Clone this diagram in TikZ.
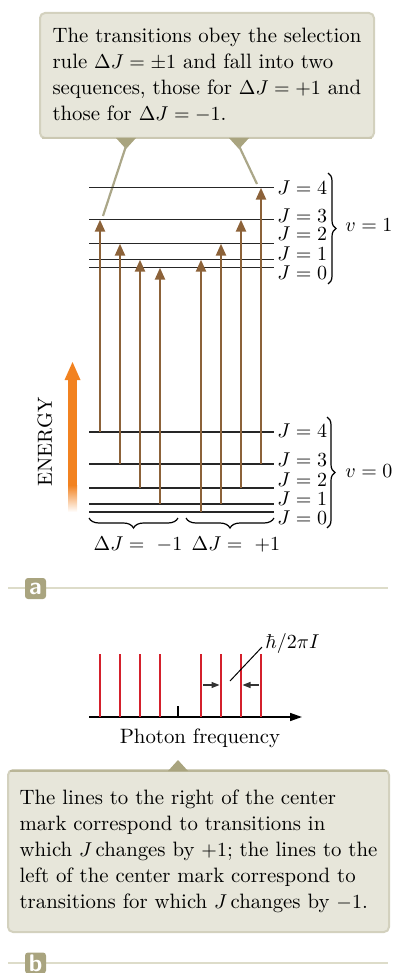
\documentclass[tikz,border=0pt]{standalone}
\usepackage{amsmath}
\usetikzlibrary{arrows.meta,decorations.pathreplacing}
\definecolor{notebg}{HTML}{E7E6DA}
\definecolor{noteedge}{HTML}{D3D1BE}
\definecolor{notedark}{HTML}{A9A47F}
\definecolor{leadgray}{HTML}{ABA789}
\definecolor{trbrown}{HTML}{8C6239}
\definecolor{energyorange}{HTML}{F28220}
\definecolor{specred}{HTML}{D4202C}
\definecolor{rulegray}{HTML}{DDDCC9}

\begin{document}
\begin{tikzpicture}[x=0.5pt,y=-0.5pt,
	enlevel/.style={line width=0.6pt, color=black!85},
	transarrow/.style={line width=1.2pt, color=trbrown, -{Triangle[length=6pt,width=5pt]}},
	notebox/.style={fill=notebg, draw=noteedge, line width=1pt, rounded corners=2.5pt, align=left, inner sep=0pt, font=\fontsize{10.4}{13}\selectfont},
	jlab/.style={anchor=base west, inner sep=0pt, font=\fontsize{10}{12}\selectfont},
	specline/.style={line width=1.3pt, color=specred},
	paneltag/.style={fill=notedark, rounded corners=1.5pt, text=white, font=\fontsize{12}{12}\sffamily\bfseries, minimum size=10.5pt, inner sep=0pt},
	panelrule/.style={line width=1pt, color=rulegray}]
	\useasboundingbox (0,0) rectangle (393,973);

	% callout on the selection rule
	\node[notebox, minimum width=167pt, minimum height=62.5pt] (rulenote) at (207,75.5) {The transitions obey the selection\\ rule $\Delta J = \pm1$ and fall into two\\ sequences, those for $\Delta J = +1$ and\\ those for $\Delta J = -1$.};
	\draw[notedark!60, line width=0.8pt] (42,138) -- (372,138);
	\fill[notedark] (116,138) -- (136,138) -- (126,149) -- cycle;
	\fill[notedark] (229,138) -- (249,138) -- (239,149) -- cycle;
	\coordinate (pointl) at (126,146);
	\coordinate (pointr) at (239,146);
	\coordinate (tipl) at (103,216);
	\coordinate (tipr) at (257,184);
	\draw[leadgray, line width=1.1pt] (pointl) -- (tipl);
	\draw[leadgray, line width=1.1pt] (pointr) -- (tipr);

	% rotational levels, v = 1 and v = 0
	\foreach \y in {187.7,219.7,243.7,259.7,267.7} {
		\draw[enlevel] (89,\y) -- (274,\y);
	}
	\foreach \y in {432,464,488,504,512} {
		\draw[enlevel] (89,\y) -- (274,\y);
	}
	\foreach \j/\yy in {4/195,3/222,2/241,1/260,0/279} {
		\node[jlab] (uj\j) at (277,\yy) {$J=\j$};
	}
	\foreach \j/\yy in {4/437,3/466,2/486,1/505,0/524} {
		\node[jlab] (lj\j) at (277,\yy) {$J=\j$};
	}
	\draw[decorate, decoration={brace, amplitude=4pt}, line width=0.6pt] (328,173) -- (328,284);
	\draw[decorate, decoration={brace, amplitude=4pt}, line width=0.6pt] (327,417) -- (327,528);
	\node[jlab] (vup) at (345,231.7) {$v=1$};
	\node[jlab] (vlow) at (345,477) {$v=0$};

	% transitions
	\foreach \x/\ya/\yb in {100/432/219.7, 120/464/243.7, 140/488/259.7, 160/504/267.7, 201/512/259.7, 221/504/243.7, 241/488/219.7, 261/464/187.7} {
		\draw[transarrow] (\x,\ya) -- (\x,\yb);
	}

	% the two sequences
	\draw[decorate, decoration={brace, amplitude=5pt, mirror}, line width=0.6pt] (89,518) -- (178,518);
	\draw[decorate, decoration={brace, amplitude=5pt, mirror}, line width=0.6pt] (186,518) -- (274,518);
	\node[anchor=base, inner sep=0pt, font=\fontsize{10}{12}\selectfont] (minus) at (138,550) {$\Delta J = \ -1$};
	\node[anchor=base, inner sep=0pt, font=\fontsize{10}{12}\selectfont] (plus) at (236,550) {$\Delta J = \ +1$};

	% energy axis
	\node[rotate=90, inner sep=0pt, font=\fontsize{10.2}{12}\selectfont] (energy) at (45,442) {ENERGY};
	\fill[energyorange] (68,379) rectangle (77,486);
	\shade[top color=energyorange, bottom color=white] (68,485) rectangle (77,512);
	\fill[energyorange] (64.5,380) -- (72.5,362) -- (80.5,380) -- cycle;

	% panel a
	\draw[panelrule] (8,588) -- (388,588);
	\node[paneltag] (taga) at (35.5,588.5) {a};

	% spectrum
	\draw[line width=0.75pt, -{Triangle[length=6pt,width=4pt]}] (89,717) -- (302,717);
	\foreach \x in {100,120,140,160,201,221,241,261} {
		\draw[specline] (\x,654) -- (\x,716.5);
	}
	\draw[line width=0.75pt] (178,706) -- (178,717);
	\draw[black!80, line width=0.6pt, -{Triangle[length=4pt,width=3pt]}] (203,685) -- (219.5,685);
	\draw[black!80, line width=0.6pt, -{Triangle[length=4pt,width=3pt]}] (259,685) -- (242.5,685);
	\node[anchor=west, inner sep=0pt, font=\fontsize{10}{12}\selectfont] (hbar) at (265,643) {$\hbar/2\pi I$};
	\coordinate (gap) at (230,681);
	\draw[line width=0.5pt] (gap) -- (262,647);
	\node[inner sep=0pt, font=\fontsize{10.4}{12}\selectfont] (freq) at (200,738) {Photon frequency};

	% callout on the spectrum
	\node[notebox, minimum width=190.5pt, minimum height=81pt] (specnote) at (198.5,851) {The lines to the right of the center\\ mark correspond to transitions in\\ which $J$\,changes by $+1$; the lines to the\\ left of the center mark correspond to\\ transitions for which $J$\,changes by $-1$.};
	\draw[notedark!80, line width=1.2pt] (10,771) -- (387,771);
	\fill[notedark] (168,771) -- (178,760) -- (188,771) -- cycle;

	% panel b
	\draw[panelrule] (8,963) -- (388,963);
	\node[paneltag] (tagb) at (35.5,963) {b};
\end{tikzpicture}
\end{document}
